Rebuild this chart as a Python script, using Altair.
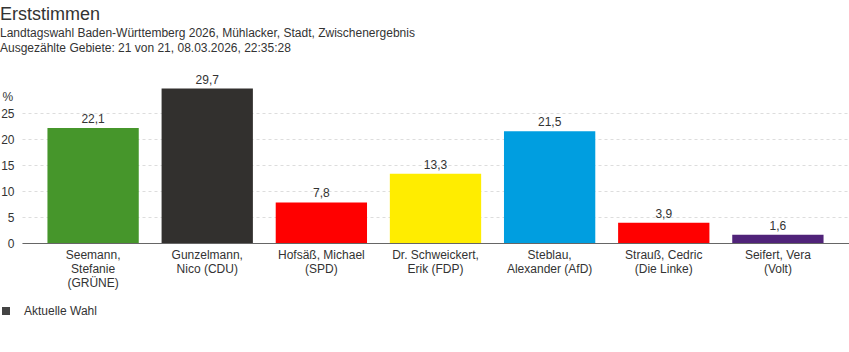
import altair as alt
import pandas as pd

kandidaten = [
    "Seemann,|Stefanie|(GRÜNE)",
    "Gunzelmann,|Nico (CDU)",
    "Hofsäß, Michael|(SPD)",
    "Dr. Schweickert,|Erik (FDP)",
    "Steblau,|Alexander (AfD)",
    "Strauß, Cedric|(Die Linke)",
    "Seifert, Vera|(Volt)",
]
werte = [22.1, 29.7, 7.8, 13.3, 21.5, 3.9, 1.6]
farben = ["#46962b", "#32302e", "#ff0000", "#ffed00", "#009ee0", "#ff0000", "#502379"]
y_ticks = [0, 5, 10, 15, 20, 25]
legende = ["Aktuelle Wahl"]

df = pd.DataFrame({"kandidat": kandidaten, "wert": werte})
df_leg = pd.DataFrame({"wahl": legende})

x = alt.X(
    "kandidat:N",
    sort=None,
    title=None,
    scale=alt.Scale(paddingInner=0.2, paddingOuter=0.223),
    axis=alt.Axis(
        labelAngle=0,
        labelExpr="split(datum.label, '|')",
        labelFontSize=12,
        labelColor="#333333",
        labelFont="Liberation Sans",
        labelLineHeight=14,
        labelPadding=6,
        ticks=False,
        grid=False,
        domain=True,
        domainColor="#666666",
        domainWidth=1,
        labelLimit=200,
    ),
)

y = alt.Y(
    "wert:Q",
    scale=alt.Scale(domain=[0, 30], nice=False),
    axis=alt.Axis(
        values=y_ticks,
        labelOverlap=False,
        title="%",
        titleAngle=0,
        titleAlign="left",
        titleBaseline="alphabetic",
        titleX=-20,
        titleY=13,
        titleFontSize=12,
        titleFontWeight="normal",
        titleColor="#333333",
        titleFont="Liberation Sans",
        labelFontSize=12,
        labelColor="#333333",
        labelFont="Liberation Sans",
        labelPadding=8,
        ticks=False,
        domain=False,
        grid=True,
        gridColor="#dddddd",
        gridDash=[3, 3],
        gridWidth=1,
    ),
)

bars = alt.Chart(df).mark_bar().encode(
    x=x,
    y=y,
    color=alt.Color(
        "kandidat:N",
        sort=None,
        scale=alt.Scale(domain=kandidaten, range=farben),
        legend=None,
    ),
)

labels = alt.Chart(df).transform_calculate(
    txt="replace(format(datum.wert, '.1f'), '.', ',')"
).mark_text(
    baseline="alphabetic", dy=-5, fontSize=12, color="#333333", font="Liberation Sans"
).encode(
    x=x,
    y=y,
    text="txt:N",
)

legend_layer = alt.Chart(df_leg).mark_square(size=64, opacity=1).encode(
    x=alt.value(-300),
    y=alt.value(100),
    fill=alt.Fill(
        "wahl:N",
        scale=alt.Scale(domain=legende, range=["#444444"]),
        legend=alt.Legend(
            title=None,
            orient="none",
            legendX=-22,
            legendY=218,
            symbolType="square",
            symbolSize=64,
            symbolStrokeWidth=0,
            symbolOpacity=1,
            labelFontSize=12,
            labelColor="#333333",
            labelFont="Liberation Sans",
            labelOffset=12,
        ),
    ),
)

chart = alt.layer(bars, labels, legend_layer).resolve_scale(
    color="independent", fill="independent"
).properties(
    width=827,
    height=156,
    background="white",
    autosize=alt.AutoSizeParams(type="none"),
    padding={"left": 22, "top": 87, "right": 0, "bottom": 109},
    title=alt.TitleParams(
        text="Erststimmen",
        subtitle=[
            "Landtagswahl Baden-Württemberg 2026, Mühlacker, Stadt, Zwischenergebnis",
            "Ausgezählte Gebiete: 21 von 21, 08.03.2026, 22:35:28",
        ],
        anchor="start",
        frame="group",
        dx=-22,
        offset=20,
        fontSize=18,
        fontWeight="normal",
        color="#333333",
        font="Liberation Sans",
        subtitleFontSize=12,
        subtitleColor="#333333",
        subtitleFont="Liberation Sans",
        subtitleLineHeight=15,
        subtitlePadding=4,
    ),
).configure_view(stroke=None, strokeWidth=0)

chart.save("out.html", embed_options={"renderer": "svg", "actions": False})
